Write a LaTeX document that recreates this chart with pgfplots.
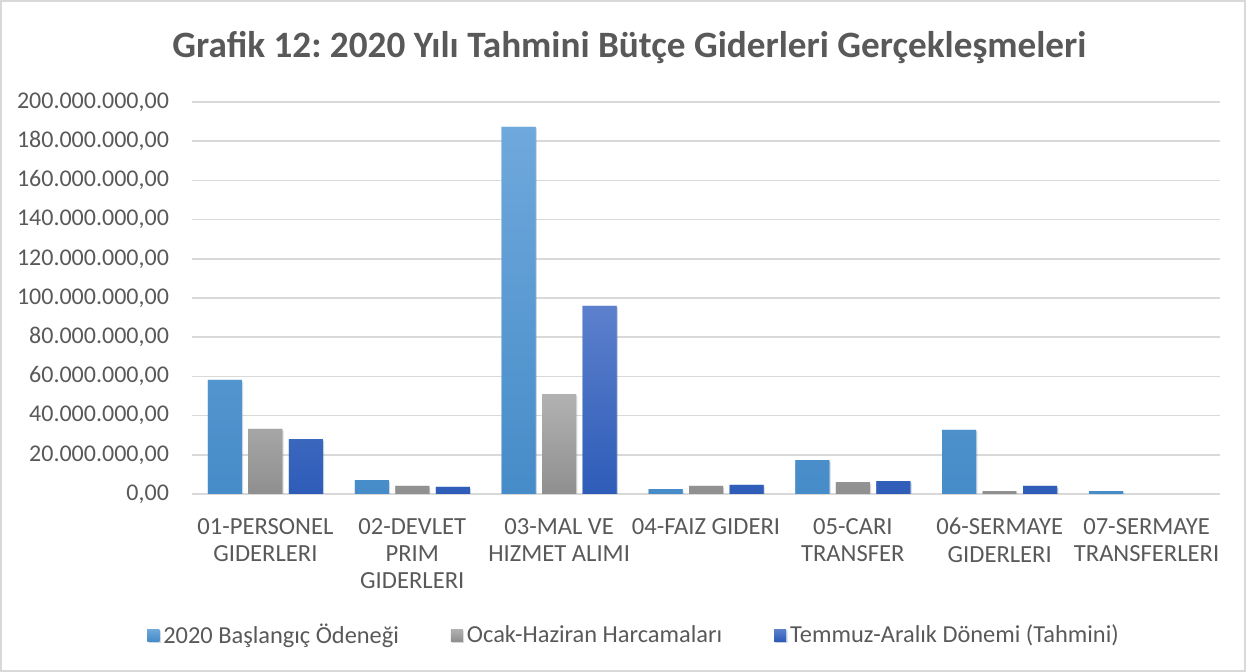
\documentclass[border=0pt]{standalone}
\usepackage{pgfplots}
\pgfplotsset{compat=1.18}
\usepackage{fontspec}
\setmainfont{Carlito}
\usetikzlibrary{shadows}

\definecolor{txt}{HTML}{595959}
\definecolor{gridc}{HTML}{D9D9D9}
\definecolor{aTop}{HTML}{6FA8DC}
\definecolor{aBot}{HTML}{468CC8}
\definecolor{bTop}{HTML}{B2B2B2}
\definecolor{bBot}{HTML}{8F8F8F}
\definecolor{cTop}{HTML}{5C80CC}
\definecolor{cBot}{HTML}{2E5CB8}

\begin{document}
\frenchspacing
\begin{tikzpicture}
\useasboundingbox (0,0) rectangle (623pt,336pt);
\draw[gridc, line width=0.8pt] (0.5pt,0.5pt) rectangle (622.5pt,335.5pt);

\node[font=\fontsize{18.6}{22}\selectfont\bfseries, text=txt] at (314.75pt,312pt)
  {Grafik 12: 2020 Yılı Tahmini Bütçe Giderleri Gerçekleşmeleri};

\begin{axis}[
  at={(96pt,89pt)}, anchor=south west,
  scale only axis, width=514pt, height=196pt,
  ybar=3.25pt, bar width=17pt,
  xmin=-0.5, xmax=6.5,
  ymin=0, ymax=200000000,
  ytick={0,20000000,...,200000000},
  xtick={0,...,6},
  xticklabels={{01-PERSONEL\\GIDERLERI},{02-DEVLET\\PRIM\\GIDERLERI},{03-MAL VE\\HIZMET ALIMI},{04-FAIZ GIDERI},{05-CARI\\TRANSFER},{06-SERMAYE\\GIDERLERI},{07-SERMAYE\\TRANSFERLERI}},
  xticklabel style={align=center, font=\fontsize{12.3}{13.7}\selectfont, text=txt, yshift=-8.5pt},
  yticklabel style={font=\fontsize{12}{14}\selectfont, text=txt, xshift=-8pt},
  scaled y ticks=false,
  y tick label style={/pgf/number format/.cd, fixed, fixed zerofill, precision=2, 1000 sep={.}, use comma, assume math mode=true},
  major tick length=0pt,
  axis line style={draw=none},
  ymajorgrids, grid style={gridc, line width=0.8pt},
  legend columns=3,
  legend style={at={(0.431,-0.36)}, anchor=center, draw=none, fill=none,
    font=\fontsize{12.2}{14}\selectfont, text=txt,
    /tikz/every even column/.append style={column sep=24pt}},
  legend image code/.code={\fill[#1] (0pt,-3pt) rectangle (6pt,3pt);},
  every axis plot/.append style={draw=none, drop shadow={shadow xshift=0.6pt, shadow yshift=-0.8pt, opacity=0.18}},
]
\addplot[top color=aTop, bottom color=aBot, fill=aTop] coordinates {
  (0,58200000) (1,7100000) (2,187300000) (3,2500000) (4,17300000) (5,32700000) (6,1500000)};
\addplot[top color=bTop, bottom color=bBot, fill=bTop] coordinates {
  (0,33200000) (1,4100000) (2,51000000) (3,4100000) (4,6100000) (5,1500000)};
\addplot[top color=cTop, bottom color=cBot, fill=cTop] coordinates {
  (0,28000000) (1,3600000) (2,96000000) (3,4600000) (4,6600000) (5,4100000)};
\legend{2020 Başlangıç Ödeneği, Ocak-Haziran Harcamaları, Temmuz-Aralık Dönemi (Tahmini)}
\end{axis}
\end{tikzpicture}
\end{document}
